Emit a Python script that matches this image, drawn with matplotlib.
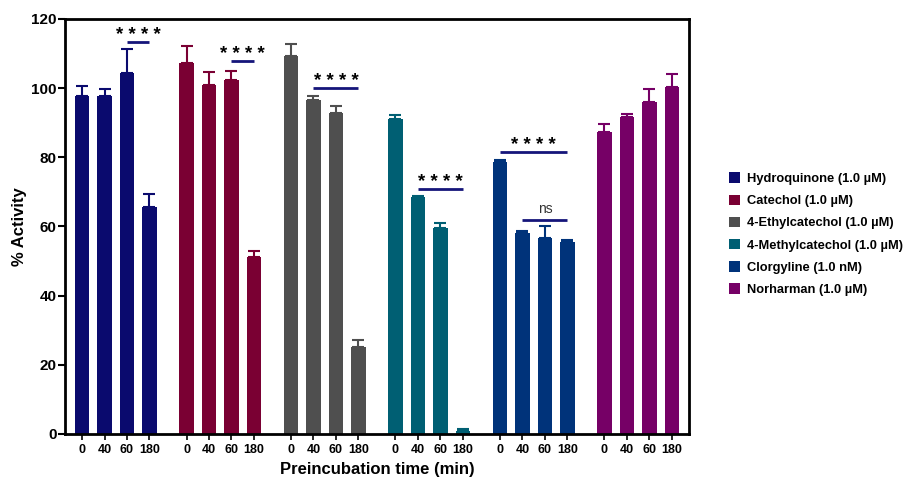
import numpy as np
import matplotlib
matplotlib.use('Agg')
import matplotlib.pyplot as plt

plt.rcParams['font.family'] = ['Liberation Sans', 'DejaVu Sans']
plt.rcParams['font.weight'] = 'bold'

# data
times = ['0', '40', '60', '180']
compounds = ['Hydroquinone (1.0 \u00b5M)', 'Catechol (1.0 \u00b5M)',
             '4-Ethylcatechol (1.0 \u00b5M)', '4-Methylcatechol (1.0 \u00b5M)',
             'Clorgyline (1.0 nM)', 'Norharman (1.0 \u00b5M)']
colors = ['#0a0a6e', '#7a0033', '#4f4f4f', '#005f73', '#00337a', '#760066']

hydroquinone = [97.6, 97.7, 104.4, 65.5]
hydroquinone_err = [2.9, 2.0, 6.8, 4.0]
catechol = [107.3, 100.9, 102.3, 51.2]
catechol_err = [4.8, 3.8, 2.7, 1.7]
ethylcatechol = [109.3, 96.5, 92.7, 25.2]
ethylcatechol_err = [3.4, 1.2, 2.1, 2.0]
methylcatechol = [91.2, 68.6, 59.6, 0.8]
methylcatechol_err = [1.0, 0.3, 1.3, 0.7]
clorgyline = [78.7, 58.0, 56.6, 55.4]
clorgyline_err = [0.5, 0.8, 3.5, 0.7]
norharman = [87.4, 91.7, 96.0, 100.4]
norharman_err = [2.2, 0.8, 3.7, 3.8]

values = [hydroquinone, catechol, ethylcatechol, methylcatechol, clorgyline, norharman]
errors = [hydroquinone_err, catechol_err, ethylcatechol_err, methylcatechol_err,
          clorgyline_err, norharman_err]

# significance brackets: (group, first bar, last bar, line y, label)
sig_group = [0, 1, 2, 3, 4, 4]
sig_start = [2, 2, 1, 1, 0, 1]
sig_end = [3, 3, 3, 3, 3, 3]
sig_y = [113.3, 107.8, 100.0, 70.8, 81.5, 61.8]
sig_text = ['* * * *', '* * * *', '* * * *', '* * * *', '* * * *', 'ns']

G = 4.65
fig = plt.figure(figsize=(9.1, 4.82), dpi=100)
ax = fig.add_axes([0.0714, 0.0996, 0.6856, 0.861])

xt = []
xl = []
for g in range(6):
    x = g * G + np.arange(4)
    ax.bar(x, values[g], width=0.64, color=colors[g], label=compounds[g],
           yerr=[np.zeros(4), errors[g]],
           error_kw=dict(ecolor=colors[g], elinewidth=1.5, capsize=4, capthick=1.5))
    xt.extend(x)
    xl.extend(times)

line_col = '#15157a'
for g, a, b, y, t in zip(sig_group, sig_start, sig_end, sig_y, sig_text):
    x0 = g * G + a
    x1 = g * G + b
    ax.plot([x0, x1], [y, y], color=line_col, lw=2, solid_capstyle='butt')
    if t == 'ns':
        ax.text((x0 + x1) / 2, y + 1.2, t, ha='center', va='bottom',
                fontsize=10, fontweight='normal', color='#333333')
    else:
        ax.text((x0 + x1) / 2, y - 0.4, t, ha='center', va='bottom',
                fontsize=13.5, fontweight='bold')

ax.set_xlim(-0.76, 5 * G + 3 + 0.76)
ax.set_ylim(0, 120)
ax.set_yticks(range(0, 121, 20))
ax.set_xticks(xt)
ax.set_xticklabels(xl, fontsize=9, fontweight='bold')
ax.tick_params(axis='y', labelsize=11, width=1.5, length=5, pad=1)
ax.tick_params(axis='x', width=1.2, length=4)
for s in ax.spines.values():
    s.set_linewidth(2)

ax.set_ylabel('% Activity', fontsize=12, fontweight='bold', labelpad=3)
ax.set_xlabel('Preincubation time (min)', fontsize=12, fontweight='bold')

ax.legend(loc='upper left', bbox_to_anchor=(0.795, 0.653), bbox_transform=fig.transFigure,
          frameon=False, prop={'size': 9.3, 'weight': 'bold'}, handlelength=0.9,
          handleheight=0.9, labelspacing=0.72, handletextpad=0.55, borderaxespad=0)

fig.savefig('out.png', dpi=100)
